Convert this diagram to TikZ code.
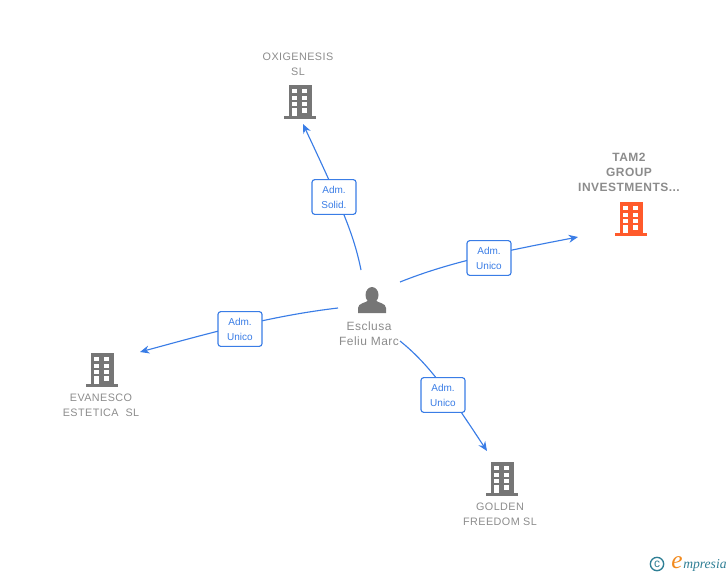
\documentclass[tikz,border=0pt]{standalone}
\usepackage{fontspec}
\setmainfont{Liberation Sans}
\newfontfamily\namefont[LetterSpace=4]{Liberation Sans}
\newfontfamily\logofont{Liberation Serif}
\usepackage{tikz}
\usetikzlibrary{arrows.meta,positioning}
\definecolor{linkblue}{HTML}{3A7DE6}
\definecolor{icongrey}{HTML}{767676}
\definecolor{nameGrey}{HTML}{8C8C8C}
\definecolor{iconorange}{HTML}{FF5A2B}
\definecolor{logoteal}{HTML}{2F7F95}
\definecolor{logoorange}{HTML}{F28A1E}
\tikzset{
  link/.style={-{Stealth[length=7pt,width=6pt]},linkblue,line width=0.85pt},
  role/.style={draw=linkblue,fill=white,rounded corners=2pt,line width=0.85pt,text=linkblue,font=\fontsize{7.5}{11.2}\selectfont,align=center,minimum width=33pt,minimum height=26pt,inner sep=0pt},
  entity/.style={text=nameGrey,font=\namefont\fontsize{8.1}{11.2}\selectfont,align=center,inner sep=0pt},
  building/.pic={
    \fill[pic actions] (-11.5,-16.5) rectangle (11.5,15);
    \fill[pic actions] (-16,15) rectangle (16,17.5);
    \foreach \wy in {-12,-5,1}{
      \fill[white] (-8,\wy) rectangle (-3,\wy+4);
      \fill[white] (2,\wy) rectangle (7,\wy+4);
    }
    \fill[white] (-8,7) rectangle (-3,15);
    \fill[white] (2,7) rectangle (7,12);
  },
  person/.pic={
    \fill[icongrey] (0,-4) ellipse (6.5 and 8);
    \fill[icongrey] (-14,14) -- (-14,9) .. controls (-14,4) and (-6,4) .. (-3,1) -- (3,1) .. controls (6,4) and (14,4) .. (14,9) -- (14,14) -- cycle;
  }
}
\begin{document}
\begin{tikzpicture}[x=0.75pt,y=-0.75pt]
\useasboundingbox (0,0) rectangle (728,575);
% icons
\pic[fill=icongrey] at (300,101) {building};
\pic[fill=iconorange] at (631,218) {building};
\pic[fill=icongrey] at (102,369) {building};
\pic[fill=icongrey] at (502,478) {building};
\pic at (372,299) {person};
% names
\node[entity] (oxigenesis) at (298,64) {OXIGENESIS\\SL};
\node[entity,font=\namefont\bfseries\fontsize{9}{11.2}\selectfont] (tamgroup) at (629,172) {TAM2\\GROUP\\INVESTMENTS...};
\node[entity] (evanesco) at (101,405) {EVANESCO\\ESTETICA\ \ SL};
\node[entity] (golden) at (500,514) {GOLDEN\\FREEDOM SL};
\node[entity,font=\namefont\fontsize{9}{11.2}\selectfont] (esclusa) at (369,334) {Esclusa\\Feliu Marc};
% link ends
\coordinate (oxistart) at (361,270);
\coordinate (oxiend) at (303,124);
\coordinate (tamstart) at (400,282);
\coordinate (tamend) at (578,237);
\coordinate (evastart) at (338,308);
\coordinate (evaend) at (140,352);
\coordinate (goldstart) at (400,341);
\coordinate (goldend) at (487,451);
\draw[link] (oxistart) .. controls (354,235) and (342,207) .. (oxiend);
\draw[link] (tamstart) .. controls (450,262) and (500,252) .. (tamend);
\draw[link] (evastart) .. controls (270,316) and (210,333) .. (evaend);
\draw[link] (goldstart) .. controls (430,365) and (450,395) .. (goldend);
% roles
\node[role] (rolesolid) at (334,197) {Adm.\\Solid.};
\node[role] (roletam) at (489,258) {Adm.\\Unico};
\node[role] (roleeva) at (240,329) {Adm.\\Unico};
\node[role] (rolegold) at (443,395) {Adm.\\Unico};
% logo
\node[circle,draw=logoteal,line width=1pt,text=logoteal,inner sep=0pt,minimum size=10pt,font=\fontsize{9}{9}\selectfont] (copyr) at (657,564) {c};
\node[text=logoorange,font=\logofont\itshape\fontsize{19}{19}\selectfont,inner sep=0pt] (logoe) at (677,563) {e};
\node[text=logoteal,font=\logofont\itshape\fontsize{10.2}{10}\selectfont,inner sep=0pt,anchor=west] (logotext) at (683,565) {mpresia};
\end{tikzpicture}
\end{document}
